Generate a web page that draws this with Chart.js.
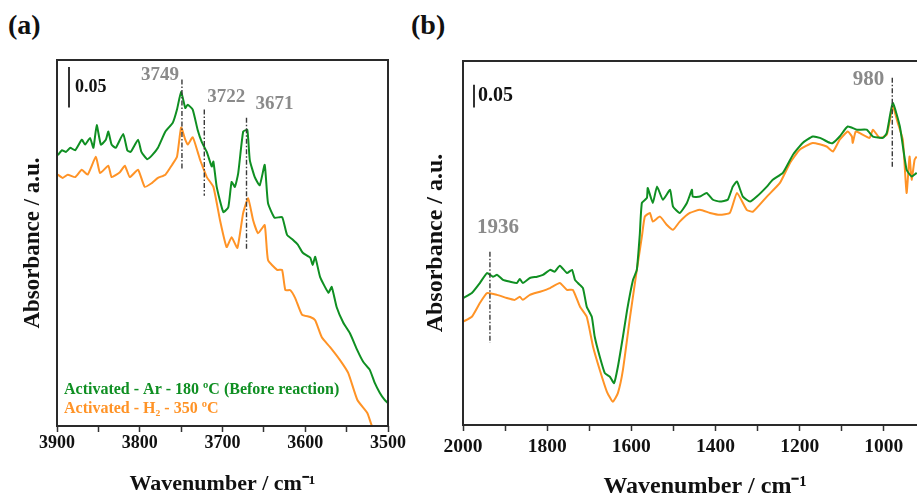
<!DOCTYPE html>
<html>
<head>
<meta charset="utf-8">
<title>DRIFTS spectra</title>
<script src="https://cdn.jsdelivr.net/npm/chart.js@4.4.1/dist/chart.umd.min.js"></script>
<style>
  html, body { margin: 0; padding: 0; background: #fff; overflow: hidden; }
  body { width: 917px; height: 504px; position: relative; }
  .panel { position: absolute; top: 0; }
  #wrapA { left: 0; }
  #wrapB { left: 400px; }
  .tag { position: absolute; top: 9px; line-height: 32px; font: bold 28px "Liberation Serif", serif; color: #111; }
</style>
</head>
<body>
<div class="tag" style="left:8px">(a)</div>
<div class="tag" style="left:411px">(b)</div>
<div id="wrapA" class="panel"><canvas id="chartA" width="420" height="504"></canvas></div>
<div id="wrapB" class="panel"><canvas id="chartB" width="560" height="504"></canvas></div>

<script>
// ---- panel (a): OH stretching region ----
const aArWn = [3899,3894,3889,3884,3878,3870,3866,3860,3856,3852,3847,3841,3838,3834,3829,3820,3815,3811,3802,3798,
  3791,3785,3778,3769,3760,3755,3750,3745,3742,3736,3730,3725,3719,3713,3711,3707,3699,3693,3689,3685,
  3681,3675,3670,3667,3661,3655,3649,3645,3637,3628,3622,3615,3609,3603,3594,3591,3588,3582,3572,3568,
  3562,3554,3546,3537,3530,3522,3516,3510,3504,3500];
const aArAbs = [0.333,0.339,0.337,0.342,0.339,0.352,0.346,0.354,0.342,0.370,0.346,0.352,0.362,0.346,0.342,0.359,0.339,0.337,0.352,0.337,
  0.328,0.333,0.342,0.362,0.373,0.389,0.411,0.391,0.395,0.389,0.364,0.349,0.337,0.319,0.325,0.294,0.263,0.269,0.300,0.294,
  0.311,0.362,0.364,0.327,0.306,0.296,0.321,0.274,0.256,0.257,0.235,0.229,0.223,0.213,0.207,0.198,0.208,0.183,0.164,0.171,
  0.146,0.127,0.114,0.093,0.079,0.069,0.053,0.041,0.032,0.028];

const aH2Wn = [3899,3893,3887,3878,3870,3863,3853,3848,3838,3834,3824,3818,3812,3802,3794,3785,3778,3769,3761,3755,
  3750,3745,3742,3736,3730,3727,3724,3719,3711,3703,3695,3689,3682,3675,3669,3663,3657,3649,3645,3634,
  3628,3624,3618,3612,3604,3594,3588,3580,3570,3558,3548,3537,3525,3519,3500];
const aH2Abs = [0.309,0.305,0.309,0.306,0.315,0.309,0.331,0.311,0.320,0.306,0.312,0.320,0.306,0.315,0.294,0.299,0.305,0.309,0.321,0.331,
  0.367,0.352,0.346,0.355,0.337,0.327,0.319,0.306,0.294,0.253,0.220,0.232,0.219,0.262,0.280,0.253,0.237,0.247,0.204,0.192,
  0.192,0.167,0.167,0.157,0.137,0.134,0.130,0.109,0.097,0.081,0.065,0.032,0.016,-0.001,-0.030];

// ---- panel (b): 2000-900 region ----
const bArWn = [2000,1979,1960,1943,1929,1919,1905,1888,1872,1865,1858,1841,1824,1810,1793,1782,1770,1753,1741,1734,
  1727,1715,1706,1694,1687,1675,1663,1651,1641,1632,1620,1610,1596,1587,1580,1575,1563,1561,1549,1539,
  1525,1508,1501,1485,1468,1456,1454,1437,1421,1406,1390,1371,1359,1349,1335,1318,1302,1278,1264,1240,
  1216,1193,1169,1152,1128,1121,1105,1086,1064,1041,1026,1002,993,979,962,946,934,922];
const bArAbs = [0.279,0.290,0.312,0.334,0.326,0.330,0.319,0.315,0.312,0.321,0.312,0.323,0.326,0.330,0.341,0.337,0.350,0.334,0.341,0.319,
  0.312,0.301,0.260,0.238,0.194,0.150,0.114,0.106,0.092,0.128,0.194,0.253,0.319,0.341,0.418,0.488,0.499,0.521,0.488,0.524,
  0.495,0.517,0.480,0.466,0.488,0.517,0.502,0.502,0.510,0.495,0.491,0.495,0.524,0.535,0.502,0.491,0.502,0.524,0.539,0.554,
  0.594,0.620,0.634,0.631,0.620,0.620,0.634,0.656,0.649,0.649,0.634,0.631,0.642,0.708,0.656,0.561,0.546,0.554];

const bH2Wn = [2000,1979,1960,1943,1919,1896,1877,1865,1858,1841,1817,1793,1770,1753,1739,1722,1706,1691,1675,1658,
  1644,1632,1620,1603,1587,1575,1568,1556,1549,1532,1516,1501,1485,1461,1437,1413,1390,1366,1349,1326,
  1311,1278,1247,1223,1200,1169,1136,1121,1105,1086,1076,1074,1067,1058,1034,1026,1010,993,979,967,
  955,946,939,934,927,922];
const bH2Abs = [0.227,0.238,0.268,0.290,0.286,0.279,0.275,0.282,0.275,0.286,0.293,0.301,0.312,0.297,0.297,0.260,0.238,0.172,0.121,0.073,
  0.051,0.070,0.121,0.238,0.341,0.414,0.458,0.466,0.447,0.458,0.440,0.429,0.447,0.466,0.473,0.466,0.462,0.466,0.510,0.473,
  0.469,0.502,0.532,0.576,0.605,0.620,0.612,0.601,0.627,0.645,0.634,0.620,0.645,0.642,0.631,0.649,0.631,0.638,0.700,0.664,
  0.627,0.510,0.590,0.539,0.583,0.590];

// tick labels and marked bands
const aTickLabels = [3900, 3800, 3700, 3600, 3500];
const bTickLabels = [2000, 1800, 1600, 1400, 1200, 1000];
const aPeaks = [3749, 3722, 3671];
const aPeakTop = [0.426, 0.389, 0.379];
const aPeakBottom = [0.315, 0.283, 0.218];
const bPeaks = [1936, 980];
const bPeakTop = [0.381, 0.763];
const bPeakBottom = [0.180, 0.565];
const seriesNames = ['Activated - Ar - 180 ºC (Before reaction)', 'Activated - H\u2082 - 350 ºC'];

const GREEN = '#0f8f22';
const ORANGE = '#ff9326';
const SERIF = '"Liberation Serif", "Times New Roman", serif';

const toPoints = (wn, abs) => wn.map((w, i) => ({ x: w, y: abs[i] }));

// frame, dash-dot peak markers, 0.05 scale bar and the coloured legend text
const spectrumDecor = {
  id: 'spectrumDecor',
  afterDatasetsDraw(chart, args, opts) {
    const { ctx, chartArea: ca, scales: { x, y } } = chart;
    ctx.save();

    ctx.strokeStyle = '#3a3a3a';
    ctx.lineWidth = 1.4;
    ctx.setLineDash([5, 2, 1.5, 2]);
    opts.peaks.forEach((wn, i) => {
      const px = x.getPixelForValue(wn);
      ctx.beginPath();
      ctx.moveTo(px, y.getPixelForValue(opts.peakTop[i]));
      ctx.lineTo(px, y.getPixelForValue(opts.peakBottom[i]));
      ctx.stroke();
    });
    ctx.setLineDash([]);

    ctx.fillStyle = '#8a8a8a';
    ctx.font = `bold ${opts.peakFont}px ${SERIF}`;
    ctx.textBaseline = 'middle';
    opts.peaks.forEach((wn, i) => {
      const lab = opts.peakLabel[i];
      ctx.textAlign = lab.align;
      ctx.fillText(String(wn), x.getPixelForValue(wn) + lab.dx, y.getPixelForValue(opts.peakTop[i]) + lab.dy);
    });

    // scale bar: 0.05 absorbance units
    const bx = ca.left + opts.bar.dx;
    const b0 = y.getPixelForValue(opts.bar.top);
    const b1 = y.getPixelForValue(opts.bar.top - 0.05);
    ctx.strokeStyle = '#333';
    ctx.lineWidth = 2;
    ctx.beginPath();
    ctx.moveTo(bx, b0);
    ctx.lineTo(bx, b1);
    ctx.stroke();
    ctx.fillStyle = '#111';
    ctx.textAlign = 'left';
    ctx.font = `bold ${opts.bar.font}px ${SERIF}`;
    ctx.fillText('0.05', bx + opts.bar.textDx, (b0 + b1) / 2 + opts.bar.textDy);

    if (opts.legend) {
      ctx.font = `bold 16px ${SERIF}`;
      chart.data.datasets.forEach((ds, i) => {
        ctx.fillStyle = ds.borderColor;
        ctx.fillText(ds.label, ca.left + 7, ca.bottom - 36 + i * 19);
      });
    }

    ctx.strokeStyle = '#2a2a2a';
    ctx.lineWidth = 2;
    ctx.strokeRect(ca.left, ca.top, ca.right - ca.left, ca.bottom - ca.top);
    ctx.restore();
  }
};

function makeChart(id, cfg) {
  const ctx = document.getElementById(id).getContext('2d');
  return new Chart(ctx, {
    type: 'line',
    data: {
      datasets: [
        { label: seriesNames[0], data: toPoints(cfg.arWn, cfg.arAbs), borderColor: GREEN },
        { label: seriesNames[1], data: toPoints(cfg.h2Wn, cfg.h2Abs), borderColor: ORANGE }
      ].map(ds => Object.assign(ds, { borderWidth: 2, pointRadius: 0, tension: 0.15, fill: false }))
    },
    options: {
      responsive: false,
      animation: false,
      layout: { padding: cfg.padding },
      plugins: {
        legend: { display: false },
        tooltip: { enabled: false },
        spectrumDecor: cfg.decor
      },
      scales: {
        x: {
          type: 'linear',
          reverse: true,
          min: cfg.xMin,
          max: cfg.xMax,
          afterFit: s => { s.height = cfg.xHeight; s.paddingLeft = 0; s.paddingRight = 0; },
          border: { display: false },
          grid: { drawOnChartArea: false, tickLength: 6, tickColor: '#333', tickWidth: 1.5 },
          ticks: {
            stepSize: cfg.step,
            autoSkip: false,
            maxRotation: 0,
            padding: cfg.tickPad,
            color: '#111',
            font: { family: SERIF, size: cfg.tickFont, weight: 'bold' },
            callback: v => (cfg.tickLabels.includes(v) ? String(v) : '')
          },
          title: {
            display: true,
            text: 'Wavenumber / cm\u207B\u00B9',
            color: '#111',
            font: { family: SERIF, size: cfg.titleFont, weight: 'bold' },
            padding: { top: 0, bottom: cfg.xTitlePad }
          }
        },
        y: {
          min: 0,
          max: cfg.yMax,
          afterFit: s => { s.width = cfg.yWidth; },
          border: { display: false },
          grid: { display: false, drawTicks: false },
          ticks: { display: false },
          title: {
            display: true,
            text: 'Absorbance / a.u.',
            color: '#111',
            font: { family: SERIF, size: cfg.yTitleFont, weight: 'bold' },
            padding: { top: cfg.yTitlePad, bottom: 0 }
          }
        }
      }
    },
    plugins: [spectrumDecor]
  });
}

makeChart('chartA', {
  arWn: aArWn, arAbs: aArAbs, h2Wn: aH2Wn, h2Abs: aH2Abs,
  xMin: 3500, xMax: 3900, step: 50, tickLabels: aTickLabels, yMax: 0.45,
  padding: { top: 60, right: 32, left: 0, bottom: 0 },
  xHeight: 78, yWidth: 57, tickPad: 1, tickFont: 18, titleFont: 22, yTitleFont: 23,
  xTitlePad: 6, yTitlePad: 19,
  decor: {
    peaks: aPeaks, peakTop: aPeakTop, peakBottom: aPeakBottom, peakFont: 19,
    peakLabel: [{ align: 'right', dx: -3, dy: -4 }, { align: 'left', dx: 3, dy: -13 }, { align: 'left', dx: 9, dy: -14 }],
    bar: { dx: 12, top: 0.4415, font: 18, textDx: 6, textDy: 0 },
    legend: true
  }
});

makeChart('chartB', {
  arWn: bArWn, arAbs: bArAbs, h2Wn: bH2Wn, h2Abs: bH2Abs,
  xMin: 850, xMax: 2000, step: 100, tickLabels: bTickLabels, yMax: 0.8,
  padding: { top: 61, right: 13, left: 0, bottom: 0 },
  xHeight: 79, yWidth: 63, tickPad: 4, tickFont: 19.5, titleFont: 24, yTitleFont: 24,
  xTitlePad: 3, yTitlePad: 21,
  decor: {
    peaks: bPeaks, peakTop: bPeakTop, peakBottom: bPeakBottom, peakFont: 21,
    peakLabel: [{ align: 'left', dx: -13, dy: -24 }, { align: 'right', dx: -8, dy: 2 }],
    bar: { dx: 11, top: 0.748, font: 20, textDx: 4, textDy: 0 },
    legend: false
  }
});
</script>
</body>
</html>
